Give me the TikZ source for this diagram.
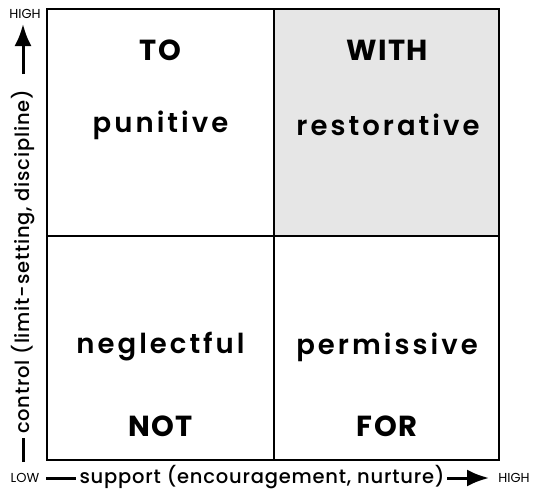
\documentclass[tikz,border=0pt]{standalone}
\usepackage{fontspec}
\setmainfont{Poppins}
\newfontfamily\capfont[LetterSpace=5]{Poppins Bold}
\newfontfamily\lowfont[LetterSpace=11]{Poppins SemiBold}
\newfontfamily\axfont[LetterSpace=4]{Poppins Medium}
\newfontfamily\endfont{Poppins}
\usetikzlibrary{arrows.meta}
\definecolor{cellgray}{HTML}{E6E6E6}
\tikzset{
  grid/.style={draw=black, line width=1.3pt},
  caplab/.style={font=\capfont\fontsize{29}{31}\selectfont, inner sep=0pt},
  lowlab/.style={font=\lowfont\fontsize{27.5}{30}\selectfont, inner sep=0pt},
  axlab/.style={font=\axfont\fontsize{19.5}{22}\selectfont, inner sep=0pt},
  endlab/.style={font=\endfont\fontsize{13}{15}\selectfont, inner sep=0pt},
  axline/.style={line width=3pt},
  axarrow/.style={line width=3pt, -{Latex[length=22pt,width=17pt]}},
}
\begin{document}
\begin{tikzpicture}[x=1pt,y=-1pt]
\useasboundingbox (0,0) rectangle (538,493);
% cells
\fill[cellgray] (274,9) rectangle (499,236);
\draw[grid] (47,9) rectangle (499,460);
\draw[grid] (274,9) -- (274,460);
\draw[grid] (47,236) -- (499,236);
% labels
\node[caplab] (to) at (160.5,50) {TO};
\node[lowlab] (pun) at (160.5,125) {punitive};
\node[caplab] (with) at (387,50) {WITH};
\node[lowlab] (res) at (388,125) {restorative};
\node[lowlab] (neg) at (160.5,347) {neglectful};
\node[lowlab] (per) at (387,347) {permissive};
\node[caplab] (not) at (160.5,426) {NOT};
\node[caplab] (for) at (387,426) {FOR};
% vertical axis
\coordinate (vb0) at (23,462);
\coordinate (vb1) at (23,438);
\coordinate (vt0) at (23,74);
\coordinate (vt1) at (23,24);
\draw[axline] (vb0) -- (vb1);
\node[axlab, rotate=90] (ctl) at (23,262) {control (limit-setting, discipline)};
\draw[axarrow] (vt0) -- (vt1);
\node[endlab] (vhigh) at (25,14) {HIGH};
% horizontal axis
\node[endlab] (low) at (25,478) {LOW};
\coordinate (hb0) at (46,478);
\coordinate (hb1) at (76,478);
\coordinate (ha0) at (447,478);
\coordinate (ha1) at (489,478);
\draw[axline] (hb0) -- (hb1);
\node[axlab] (sup) at (262,477) {support (encouragement, nurture)};
\draw[axarrow] (ha0) -- (ha1);
\node[endlab] (hhigh) at (514,478) {HIGH};
\end{tikzpicture}
\end{document}
